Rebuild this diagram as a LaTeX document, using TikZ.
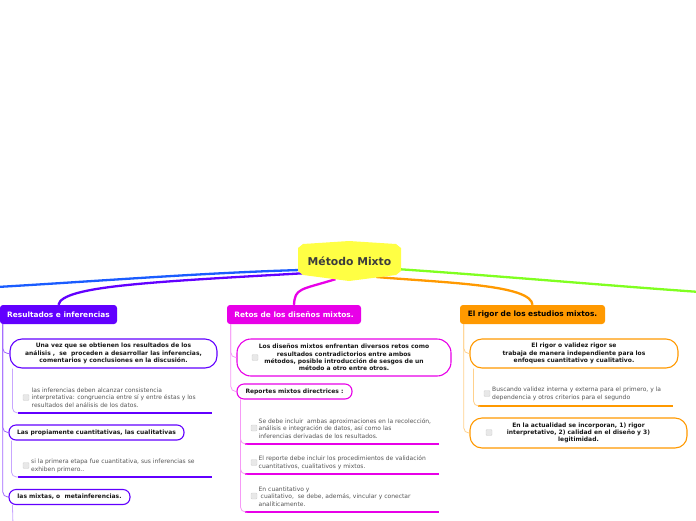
\documentclass[tikz,border=0pt]{standalone}
\usepackage{fontspec}
\setmainfont{DejaVu Sans}
\usetikzlibrary{calc,backgrounds}
\definecolor{cpurple}{RGB}{98,0,255}
\definecolor{cmag}{RGB}{232,0,232}
\definecolor{corange}{RGB}{255,153,0}
\definecolor{cblue}{RGB}{26,92,255}
\definecolor{cgreen}{RGB}{128,255,32}
\definecolor{cyellow}{RGB}{255,255,68}
\definecolor{ctitle}{RGB}{60,60,60}
\definecolor{cleaf}{RGB}{85,85,85}
\definecolor{cpill}{RGB}{25,25,25}
\begin{document}
\begin{tikzpicture}[x=1pt,y=-1pt,
  hdr/.style={rounded corners=3pt, inner sep=0pt, minimum height=19pt,
    font=\fontsize{7.4}{8.5}\selectfont\bfseries},
  pill/.style={draw, line width=1.1pt, fill=white, inner sep=0pt, align=center,
    text=cpill, font=\fontsize{6}{7.3}\selectfont\bfseries},
  leaf/.style={anchor=west, align=left, inner sep=0pt, text=cleaf,
    font=\fontsize{6}{7.7}\selectfont},
  chk/.style={draw=gray!35, fill=gray!18, rounded corners=1pt, minimum size=6pt, inner sep=0pt},
  mainline/.style={line width=2.3pt},
  conn/.style={line width=0.8pt, rounded corners=5pt},
  uline/.style={line width=2.6pt}]
\useasboundingbox (0,0) rectangle (696,520);

% central node
\node[minimum width=103pt, minimum height=40pt, inner sep=0pt] (mm) at (349.5,261) {};
\fill[cyellow] (298,248) -- (303,244) -- (349,241) -- (396,244) -- (401,248)
  -- (401,271) -- (396,275) -- (349,281) -- (303,275) -- (298,271) -- cycle;
\node[text=ctitle, font=\fontsize{10.8}{12}\selectfont\bfseries] (mmt) at (mm) {Método Mixto};

% level 1 nodes
\node[hdr, fill=cpurple, text=white, minimum width=117pt] (res) at (58.5,314.5) {Resultados e inferencias};
\node[hdr, fill=cmag, text=white, minimum width=134pt] (ret) at (294,314.5) {Retos de los diseños mixtos.};
\node[hdr, fill=corange, text=black, minimum width=145pt] (rig) at (532.5,314.5) {El rigor de los estudios mixtos.};

\coordinate (blueend) at (-3,287);
\coordinate (greenend) at (700,292);

\begin{pgfonlayer}{background}
\draw[mainline, cblue] ($(mm.west)+(2,9)$) .. controls (200,273) and (100,281) .. (blueend);
\draw[mainline, cpurple] ($(mm.west)+(10,12)$) .. controls (150,282) and (62,286) .. (res.north);
\draw[mainline, cmag] ($(mm.south)+(-14,-2)$) .. controls (300,290) and (295,288) .. (ret.north);
\draw[mainline, corange] ($(mm.east)+(-25,16)$) .. controls (450,283) and (531,285) .. (rig.north);
\draw[mainline, cgreen] ($(mm.east)+(-5,8)$) .. controls (500,276) and (600,285) .. (greenend);
\end{pgfonlayer}

% ---------- left branch ----------
\node[pill, draw=cpurple, minimum width=207pt, minimum height=29pt, rounded corners=12pt] (p1) at (113.5,353.5)
  {Una vez que se obtienen los resultados de los\\análisis ,\ \ se\ \ proceden a desarrollar las inferencias,\\comentarios y conclusiones en la discusión.};
\node[pill, draw=cpurple, minimum width=175pt, minimum height=15pt, rounded corners=7pt] (p2) at (96.5,432.5)
  {Las propiamente cuantitativas, las cualitativas};
\node[pill, draw=cpurple, minimum width=121pt, minimum height=15pt, rounded corners=7pt] (p3) at (69.5,497)
  {las mixtas, o\ \ metainferencias.};

\draw[conn, cpurple!60] ([xshift=3pt]res.south west) |- (p1.west);
\draw[conn, cpurple!60] ([xshift=3pt]res.south west) |- (p2.west);
\draw[conn, cpurple!60] ([xshift=3pt]res.south west) |- (p3.west);

\node[chk] (c1) at (26,397.5) {};
\node[leaf] (t1) at (31.5,397.5) {las inferencias deben alcanzar consistencia\\interpretativa: congruencia entre sí y entre éstas y los\\resultados del análisis de los datos.};
\coordinate (u1a) at (18,413);
\coordinate (u1b) at (212,413);
\draw[uline, cpurple] (u1a) -- (u1b);
\draw[conn, cpurple!35] ([xshift=3pt]p1.south west) |- (u1a);

\node[chk] (c2) at (26,465.5) {};
\node[leaf] (t2) at (31,465.5) {si la primera etapa fue cuantitativa, sus inferencias se\\exhiben primero..};
\coordinate (u2a) at (18,477);
\coordinate (u2b) at (212,477);
\draw[uline, cpurple] (u2a) -- (u2b);
\draw[conn, cpurple!35] ([xshift=3pt]p2.south west) |- (u2a);

\coordinate (mixend) at (13,525);
\draw[conn, cpurple!35] ([xshift=4pt]p3.south west) -- (mixend);

% ---------- middle branch ----------
\node[pill, draw=cmag, minimum width=214pt, minimum height=37pt, rounded corners=14pt] (m1) at (344,357.5)
  {Los diseños mixtos enfrentan diversos retos como\\resultados contradictorios entre ambos\\métodos, posible introducción de sesgos de un\\método a otro entre otros.};
\node[chk] (cm0) at (255,357.5) {};
\node[pill, draw=cmag, minimum width=115pt, minimum height=15pt, rounded corners=7pt] (m2) at (294.5,391.5)
  {Reportes mixtos directrices :};

\draw[conn, cmag!40] ([xshift=4pt]ret.south west) |- (m1.west);
\draw[conn, cmag!40] ([xshift=4pt]ret.south west) |- (m2.west);

\node[chk] (cm1) at (254,428) {};
\node[leaf] (tm1) at (258.5,428.5) {Se debe incluir\ \ ambas aproximaciones en la recolección,\\análisis e integración de datos, así como las\\inferencias derivadas de los resultados.};
\coordinate (um1a) at (245,444);
\coordinate (um1b) at (439,444);
\draw[uline, cmag] (um1a) -- (um1b);
\draw[conn, cmag!40] ([xshift=4pt]m2.south west) |- (um1a);

\node[chk] (cm2) at (254,462.5) {};
\node[leaf] (tm2) at (258.5,462.5) {El reporte debe incluir los procedimientos de validación\\cuantitativos, cualitativos y mixtos.};
\coordinate (um2a) at (245,474);
\coordinate (um2b) at (439,474);
\draw[uline, cmag] (um2a) -- (um2b);
\draw[conn, cmag!40] ([xshift=4pt]m2.south west) |- (um2a);

\node[chk] (cm3) at (254,496) {};
\node[leaf] (tm3) at (258.5,496.5) {En cuantitativo y\\\hspace*{2pt}cualitativo,\ \ se debe, además, vincular y conectar\\analíticamente.};
\coordinate (um3a) at (245,512);
\coordinate (um3b) at (439,512);
\draw[uline, cmag] (um3a) -- (um3b);
\draw[conn, cmag!40] ([xshift=4pt]m2.south west) |- (um3a);

% ---------- right branch ----------
\node[pill, draw=corange, minimum width=208pt, minimum height=29pt, rounded corners=12pt] (r1) at (574,353.5)
  {El rigor o validez rigor se\\trabaja de manera independiente para los\\enfoques cuantitativo y cualitativo.};
\node[pill, draw=corange, minimum width=217pt, minimum height=30pt, rounded corners=12pt] (r2) at (578.5,433)
  {En la actualidad se incorporan, 1) rigor\\interpretativo, 2) calidad en el diseño y 3)\\legitimidad.};
\node[chk] (cr2) at (489,432.5) {};

\draw[conn, corange!45] ([xshift=4pt]rig.south west) |- (r1.west);
\draw[conn, corange!45] ([xshift=4pt]rig.south west) |- (r2.west);

\node[chk] (cr1) at (487,393.5) {};
\node[leaf] (tr1) at (492,394) {Buscando validez interna y externa para el primero, y la\\dependencia y otros criterios para el segundo};
\coordinate (ur1a) at (478,406);
\coordinate (ur1b) at (673,406);
\draw[uline, corange] (ur1a) -- (ur1b);
\draw[conn, corange!45] ([xshift=4pt]r1.south west) |- (ur1a);
\end{tikzpicture}
\end{document}
